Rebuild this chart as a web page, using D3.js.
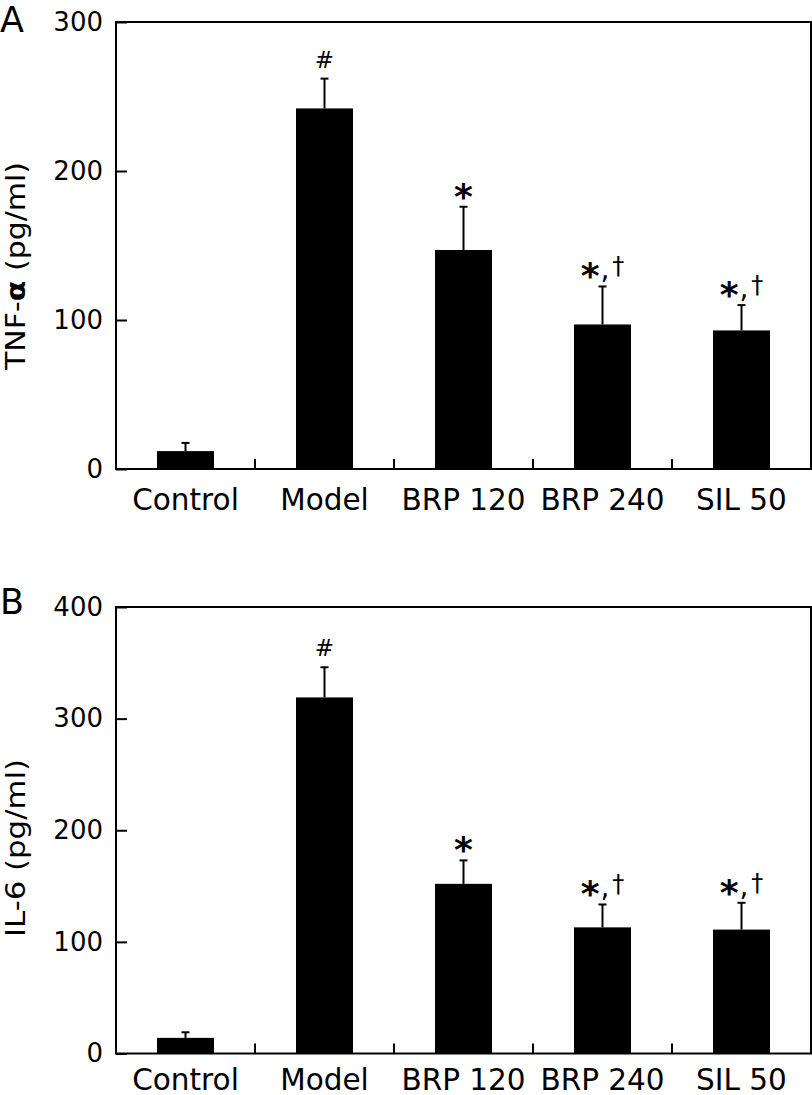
<!DOCTYPE html>
<html>
<head>
<meta charset="utf-8">
<script src="https://cdn.jsdelivr.net/npm/d3@7/dist/d3.min.js"></script>
<style>
  html, body { margin: 0; padding: 0; background: #fff; }
  svg { display: block; }
  text { font-family: Verdana, "DejaVu Sans", sans-serif; fill: #000; }
</style>
</head>
<body>
<svg id="chart" width="812" height="1095"></svg>
<script>
// ---- data ----
const categories = ["Control", "Model", "BRP 120", "BRP 240", "SIL 50"];
const tnfMean = [12, 242, 147, 97, 93];
const tnfErr  = [5.5, 20, 29, 25.5, 17];
const il6Mean = [14, 319, 152, 113, 111];
const il6Err  = [5, 27, 21, 20.5, 24];
const tnfMarks = ["", "#", "*", "*,†", "*,†"];
const il6Marks = ["", "#", "*", "*,†", "*,†"];
const tnfTicks = [0, 100, 200, 300];
const il6Ticks = [0, 100, 200, 300, 400];

const svg = d3.select("#chart");
const FONT = 'Verdana, "DejaVu Sans", sans-serif';

function panel(opts) {
  const left = 116, right = 811;
  const g = svg.append("g");
  const x = d3.scaleBand().domain(categories).range([left, right]).paddingInner(0).paddingOuter(0);
  const y = d3.scaleLinear().domain([0, opts.max]).range([opts.bottom, opts.top]);
  const bw = x.bandwidth() * 0.41;

  // bars
  g.selectAll("rect.bar").data(categories).enter().append("rect")
    .attr("x", d => x(d) + (x.bandwidth() - bw) / 2)
    .attr("width", bw)
    .attr("y", (d, i) => y(opts.mean[i]))
    .attr("height", (d, i) => y(0) - y(opts.mean[i]))
    .attr("fill", "#000");

  // error bars
  const cap = 4;
  categories.forEach((c, i) => {
    const cx = x(c) + x.bandwidth() / 2;
    g.append("line").attr("x1", cx).attr("x2", cx)
      .attr("y1", y(opts.mean[i])).attr("y2", y(opts.mean[i] + opts.err[i]))
      .attr("stroke", "#000").attr("stroke-width", 2);
    g.append("line").attr("x1", cx - cap).attr("x2", cx + cap)
      .attr("y1", y(opts.mean[i] + opts.err[i])).attr("y2", y(opts.mean[i] + opts.err[i]))
      .attr("stroke", "#000").attr("stroke-width", 2);
  });

  // annotations
  categories.forEach((c, i) => {
    const m = opts.marks[i];
    if (!m) return;
    const cx = x(c) + x.bandwidth() / 2;
    const yt = y(opts.mean[i] + opts.err[i]);
    if (m === "#") {
      g.append("text").attr("x", cx).attr("y", yt - 11)
        .attr("text-anchor", "middle").attr("font-size", 23).text("#");
    } else {
      const t = g.append("text").attr("x", cx).attr("y", yt + 2)
        .attr("text-anchor", "middle");
      const parts = m.split(",");
      t.append("tspan").attr("font-size", 36).attr("font-weight", "bold").text(parts[0]);
      if (parts.length > 1) {
        t.append("tspan").attr("font-size", 28).attr("dy", -9).attr("dx", 1).text(",");
        t.append("tspan").attr("font-size", 24).attr("dy", -5).attr("dx", 3).text(parts[1]);
      }
    }
  });

  // y axis
  const ya = d3.axisLeft(y).tickValues(opts.ticks).tickSize(-11).tickPadding(13).tickFormat(d3.format("d"));
  const yg = g.append("g").attr("transform", `translate(${left},0)`).call(ya);
  yg.select(".domain").remove();
  yg.selectAll(".tick line").attr("stroke", "#000").attr("stroke-width", 2);
  yg.selectAll(".tick text").attr("font-size", 26).attr("font-family", FONT).attr("fill", "#000");

  // x category labels
  const xa = d3.axisBottom(x).tickSize(0).tickPadding(0);
  const xg = g.append("g").attr("transform", `translate(0,${opts.bottom})`).call(xa);
  xg.select(".domain").remove();
  xg.selectAll(".tick text").attr("font-size", 29.5).attr("font-family", FONT)
    .attr("fill", "#000").attr("dy", null).attr("y", opts.labelOffset);

  // category boundary ticks
  g.selectAll("line.sep").data(categories.slice(1)).enter().append("line")
    .attr("x1", d => x(d)).attr("x2", d => x(d))
    .attr("y1", opts.bottom).attr("y2", opts.bottom - 10)
    .attr("stroke", "#000").attr("stroke-width", 2);

  // frame
  g.append("rect").attr("x", left).attr("y", opts.top)
    .attr("width", right - left).attr("height", opts.bottom - opts.top)
    .attr("fill", "none").attr("stroke", "#000").attr("stroke-width", 2);

  // y title
  const ty = g.append("text")
    .attr("transform", `translate(${opts.titleX},${opts.titleY}) rotate(-90)`)
    .attr("text-anchor", "middle").attr("font-size", 27)
    .attr("textLength", opts.titleLen).attr("lengthAdjust", "spacingAndGlyphs");
  opts.title.forEach(p => {
    const s = ty.append("tspan").text(p.t);
    if (p.bold) s.attr("font-weight", "bold");
  });

  // panel letter
  g.append("text").attr("x", 0).attr("y", opts.letterY).attr("font-size", 35).text(opts.letter);
}

panel({ top: 22, bottom: 469, max: 300, mean: tnfMean, err: tnfErr, marks: tnfMarks, ticks: tnfTicks,
  title: [{t: "TNF-"}, {t: "α", bold: true}, {t: " (pg/ml)"}], titleX: 25, titleY: 266, titleLen: 208,
  letter: "A", letterY: 32, labelOffset: 41 });
panel({ top: 607, bottom: 1053.5, max: 400, mean: il6Mean, err: il6Err, marks: il6Marks, ticks: il6Ticks,
  title: [{t: "IL-6 (pg/ml)"}], titleX: 25, titleY: 848, titleLen: 178,
  letter: "B", letterY: 614, labelOffset: 36 });
</script>
</body>
</html>
